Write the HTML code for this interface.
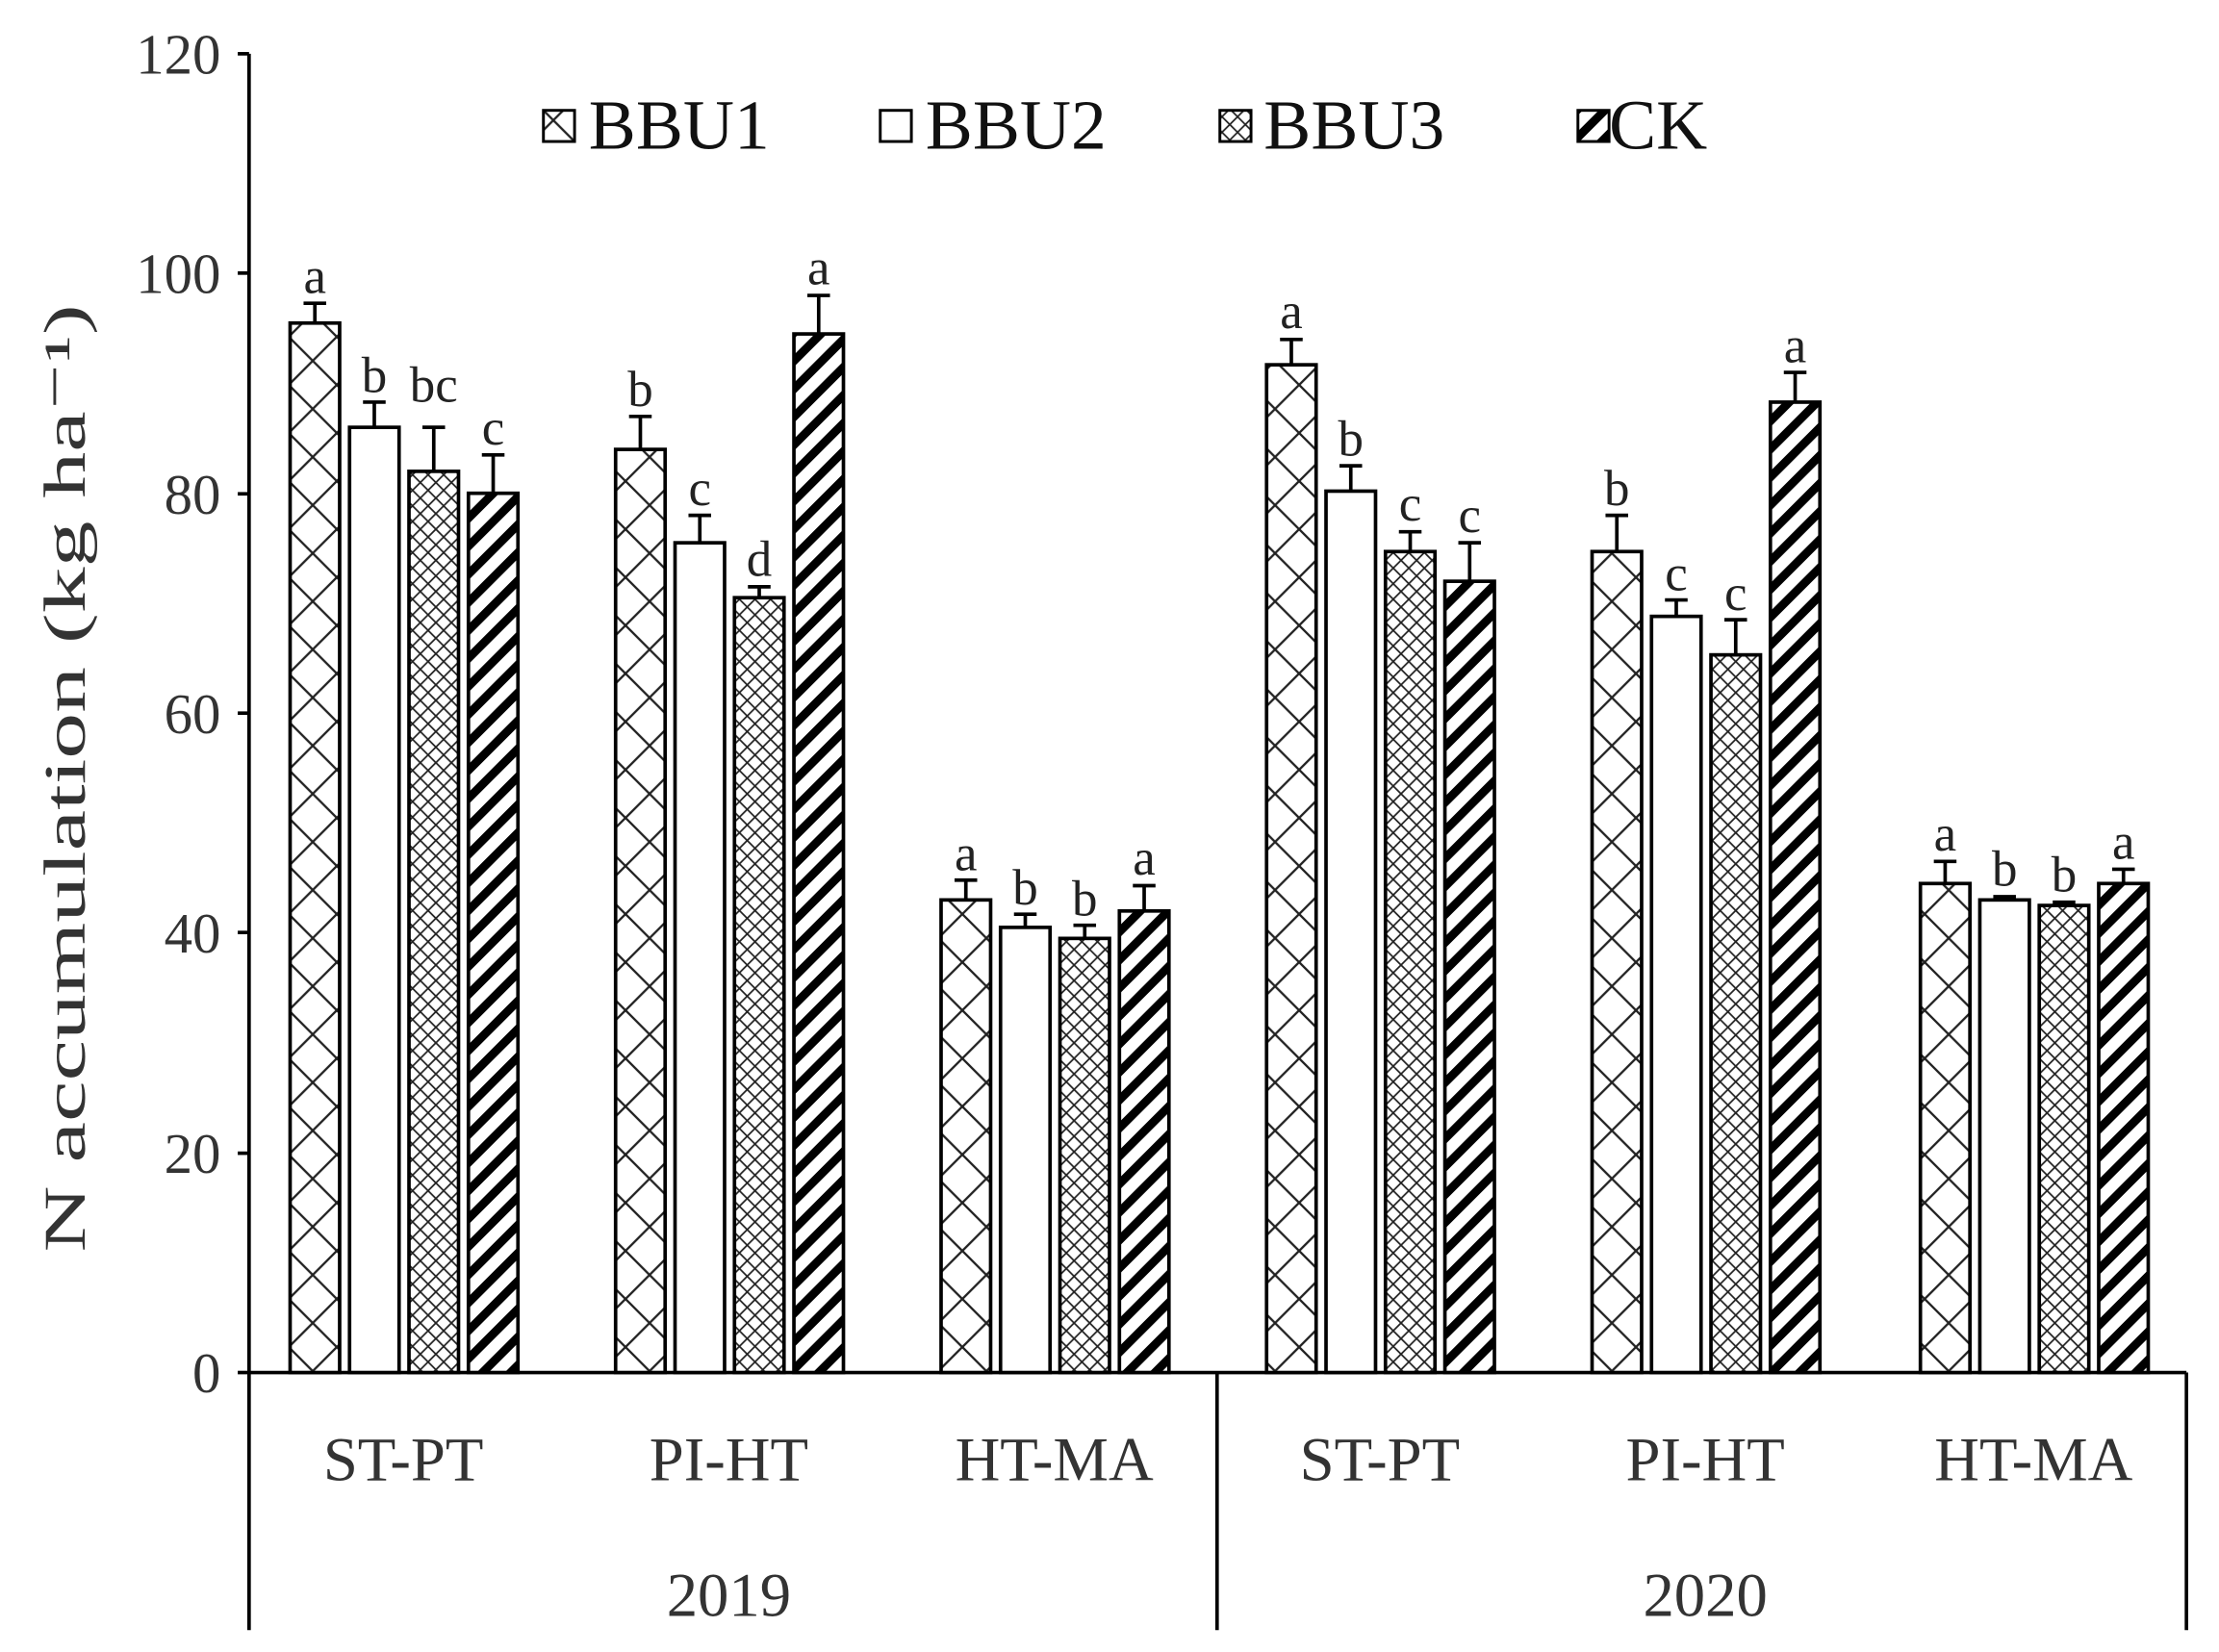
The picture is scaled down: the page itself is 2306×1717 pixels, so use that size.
<!DOCTYPE html>
<html><head><meta charset="utf-8"><style>html,body{margin:0;padding:0;background:#fff}svg{display:block}</style></head>
<body>
<svg width="2306" height="1717" viewBox="0 0 1568 1167.5" preserveAspectRatio="none" xmlns="http://www.w3.org/2000/svg" font-family="'Liberation Serif',serif">
<defs>
<pattern id="p1" patternUnits="userSpaceOnUse" width="34" height="34">
<rect width="34" height="34" fill="#fff"/>
<path d="M0,0L34,34M34,0L0,34" stroke="#222" stroke-width="1.6"/>
</pattern>
<pattern id="p3" patternUnits="userSpaceOnUse" width="11" height="11">
<rect width="11" height="11" fill="#fff"/>
<path d="M0,0L11,11M11,0L0,11" stroke="#222" stroke-width="1.2"/>
</pattern>
<pattern id="pck" patternUnits="userSpaceOnUse" width="14" height="14" patternTransform="rotate(45)">
<rect width="14" height="14" fill="#fff"/>
<rect x="0" y="0" width="6" height="14" fill="#000"/>
</pattern>
</defs>
<g stroke="#000" stroke-width="2.5" fill="none">
<line x1="176" y1="38" x2="176" y2="1152"/>
<line x1="176" y1="970" x2="1545" y2="970"/>
<line x1="1545" y1="970" x2="1545" y2="1152"/>
<line x1="860" y1="970" x2="860" y2="1152"/>
<line x1="168" y1="38" x2="176" y2="38"/>
<line x1="168" y1="193" x2="176" y2="193"/>
<line x1="168" y1="349" x2="176" y2="349"/>
<line x1="168" y1="504" x2="176" y2="504"/>
<line x1="168" y1="659" x2="176" y2="659"/>
<line x1="168" y1="815" x2="176" y2="815"/>
<line x1="168" y1="970" x2="176" y2="970"/>
</g>
<g font-size="40" fill="#333" text-anchor="end">
<text x="156" y="52">120</text><text x="156" y="207">100</text><text x="156" y="363">80</text>
<text x="156" y="518">60</text><text x="156" y="673">40</text><text x="156" y="829">20</text><text x="156" y="984">0</text>
</g>
<text transform="translate(60,550) rotate(-90)" font-size="42" fill="#333" text-anchor="middle" textLength="670" lengthAdjust="spacingAndGlyphs">N accumulation (kg ha⁻¹)</text>
<g font-size="44" fill="#333" text-anchor="middle">
<text x="285" y="1046">ST-PT</text><text x="515" y="1046">PI-HT</text><text x="745" y="1046">HT-MA</text>
<text x="975" y="1046">ST-PT</text><text x="1205" y="1046">PI-HT</text><text x="1437" y="1046">HT-MA</text>
<text x="515" y="1142">2019</text><text x="1205" y="1142">2020</text>
</g>
<g font-size="50" fill="#111">
<rect x="384" y="78" width="22" height="22" fill="url(#p1)" stroke="#000" stroke-width="2"/><text x="416" y="105">BBU1</text>
<rect x="622" y="78" width="22" height="22" fill="#fff" stroke="#000" stroke-width="2"/><text x="654" y="105">BBU2</text>
<rect x="862" y="78" width="22" height="22" fill="url(#p3)" stroke="#000" stroke-width="2"/><text x="893" y="105">BBU3</text>
<rect x="1115" y="78" width="22" height="22" fill="url(#pck)" stroke="#000" stroke-width="2"/><text x="1137" y="105">CK</text>
</g>
<g stroke="#000" stroke-width="2.5">
<rect x="205" y="228.3" width="35" height="741.7" fill="url(#p1)"/>
<rect x="247" y="302" width="35" height="668" fill="#fff"/>
<rect x="289" y="333.1" width="35" height="636.9" fill="url(#p3)"/>
<rect x="331" y="348.6" width="35" height="621.4" fill="url(#pck)"/>
<rect x="435" y="317.6" width="35" height="652.4" fill="url(#p1)"/>
<rect x="477" y="383.6" width="35" height="586.4" fill="#fff"/>
<rect x="519" y="422.4" width="35" height="547.6" fill="url(#p3)"/>
<rect x="561" y="236" width="35" height="734" fill="url(#pck)"/>
<rect x="665" y="636" width="35" height="334" fill="url(#p1)"/>
<rect x="707" y="655.4" width="35" height="314.6" fill="#fff"/>
<rect x="749" y="663.2" width="35" height="306.8" fill="url(#p3)"/>
<rect x="791" y="643.8" width="35" height="326.2" fill="url(#pck)"/>
<rect x="895" y="257.8" width="35" height="712.2" fill="url(#p1)"/>
<rect x="937" y="347.1" width="35" height="622.9" fill="#fff"/>
<rect x="979" y="389.8" width="35" height="580.2" fill="url(#p3)"/>
<rect x="1021" y="410.8" width="35" height="559.2" fill="url(#pck)"/>
<rect x="1125" y="389.8" width="35" height="580.2" fill="url(#p1)"/>
<rect x="1167" y="435.6" width="35" height="534.4" fill="#fff"/>
<rect x="1209" y="462.8" width="35" height="507.2" fill="url(#p3)"/>
<rect x="1251" y="284.2" width="35" height="685.8" fill="url(#pck)"/>
<rect x="1357" y="624.4" width="35" height="345.6" fill="url(#p1)"/>
<rect x="1399" y="636" width="35" height="334" fill="#fff"/>
<rect x="1441" y="639.9" width="35" height="330.1" fill="url(#p3)"/>
<rect x="1483" y="624.4" width="35" height="345.6" fill="url(#pck)"/>
<path fill="none" d="
M222.5,228.3V214.3M214.5,214.3H230.5
M264.5,302V284.2M256.5,284.2H272.5
M306.5,333.1V302M298.5,302H314.5
M348.5,348.6V321.5M340.5,321.5H356.5
M452.5,317.6V294.3M444.5,294.3H460.5
M494.5,383.6V364.2M486.5,364.2H502.5
M536.5,422.4V414.7M528.5,414.7H544.5
M578.5,236V208.8M570.5,208.8H586.5
M682.5,636V622M674.5,622H690.5
M724.5,655.4V646.1M716.5,646.1H732.5
M766.5,663.2V653.9M758.5,653.9H774.5
M808.5,643.8V625.9M800.5,625.9H816.5
M912.5,257.8V239.9M904.5,239.9H920.5
M954.5,347.1V329.2M946.5,329.2H962.5
M996.5,389.8V375.8M988.5,375.8H1004.5
M1038.5,410.8V383.6M1030.5,383.6H1046.5
M1142.5,389.8V364.2M1134.5,364.2H1150.5
M1184.5,435.6V424M1176.5,424H1192.5
M1226.5,462.8V438M1218.5,438H1234.5
M1268.5,284.2V263.2M1260.5,263.2H1276.5
M1374.5,624.4V608.8M1366.5,608.8H1382.5
M1416.5,636V633.7M1408.5,633.7H1424.5
M1458.5,639.9V637.6M1450.5,637.6H1466.5
M1500.5,624.4V614.3M1492.5,614.3H1508.5"/>
</g>
<g font-size="36" fill="#222" text-anchor="middle">
<text x="222.5" y="207">a</text><text x="264.5" y="277">b</text><text x="306.5" y="284">bc</text><text x="348.5" y="314">c</text>
<text x="452.5" y="287">b</text><text x="494.5" y="357">c</text><text x="536.5" y="407">d</text><text x="578.5" y="201">a</text>
<text x="682.5" y="615">a</text><text x="724.5" y="639">b</text><text x="766.5" y="647">b</text><text x="808.5" y="618">a</text>
<text x="912.5" y="232">a</text><text x="954.5" y="322">b</text><text x="996.5" y="368">c</text><text x="1038.5" y="376">c</text>
<text x="1142.5" y="357">b</text><text x="1184.5" y="417">c</text><text x="1226.5" y="431">c</text><text x="1268.5" y="256">a</text>
<text x="1374.5" y="601">a</text><text x="1416.5" y="626">b</text><text x="1458.5" y="630">b</text><text x="1500.5" y="607">a</text>
</g>
</svg>
</body></html>
